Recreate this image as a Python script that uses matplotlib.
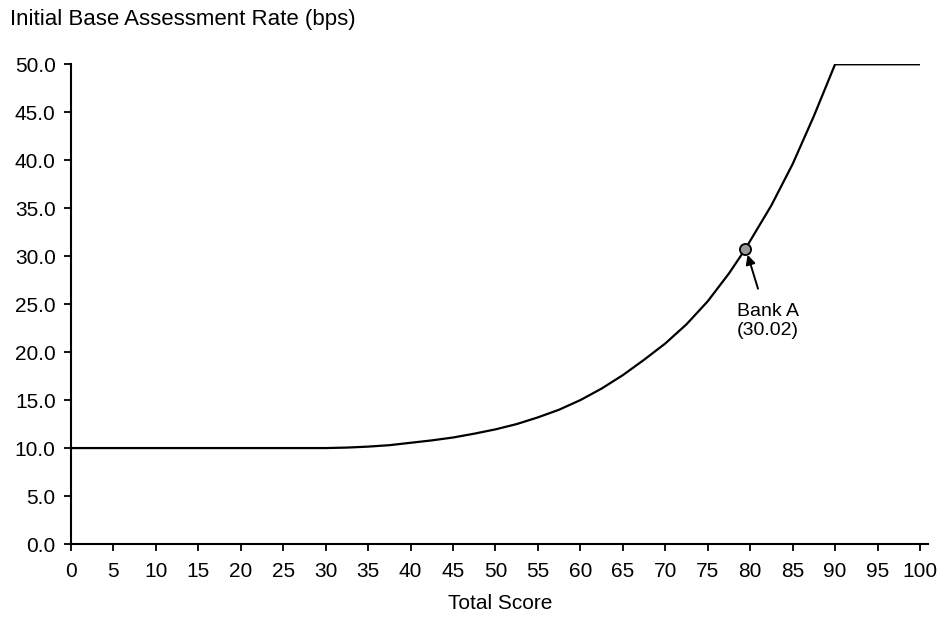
import matplotlib
matplotlib.use("Agg")
import matplotlib.pyplot as plt

plt.rcParams['font.family'] = ['Liberation Sans', 'DejaVu Sans']

score = [0, 30, 32.5, 35, 37.5, 40, 42.5, 45, 47.5, 50, 52.5, 55, 57.5, 60,
         62.5, 65, 67.5, 70, 72.5, 75, 77.5, 79.4, 80, 82.5, 85, 87.5, 90, 100]
rate = [10.0, 10.0, 10.05, 10.15, 10.3, 10.55, 10.8, 11.1, 11.5, 11.95, 12.5,
        13.2, 14.0, 15.0, 16.2, 17.6, 19.2, 20.9, 22.9, 25.3, 28.2, 30.7, 31.6,
        35.3, 39.6, 44.6, 50.0, 50.0]
bank_score = 79.4
bank_rate = 30.7
bank_label = "Bank A\n(30.02)"
xticks = list(range(0, 101, 5))
yticks = [0, 5, 10, 15, 20, 25, 30, 35, 40, 45, 50]

fig = plt.figure(figsize=(9.45, 6.22), dpi=100)
ax = fig.add_axes([0.0751, 0.1254, 0.9074, 0.7712])

ax.plot(score, rate, color='black', lw=1.6, solid_capstyle='butt',
        solid_joinstyle='round')
ax.plot([bank_score], [bank_rate], marker='o', ms=8, mfc='#9a9a9a',
        mec='black', mew=1.3, zorder=5)
ax.annotate(bank_label, xy=(bank_score + 0.3, bank_rate - 0.55),
            xytext=(82.1, 23.2), ha='center', va='center', fontsize=14,
            multialignment='center', linespacing=1.15,
            arrowprops=dict(arrowstyle='-|>', color='black', lw=1.4,
                            mutation_scale=14, shrinkA=9, shrinkB=0))

ax.set_xlim(0, 101)
ax.set_ylim(0, 50)
ax.set_xticks(xticks)
ax.set_xticklabels([str(t) for t in xticks], fontsize=15)
ax.set_yticks(yticks)
ax.set_yticklabels([f"{t:.1f}" for t in yticks], fontsize=15)
ax.tick_params(axis='both', direction='out', length=5, width=1.3, pad=6)
ax.tick_params(axis='x', pad=8)
for s in ['top', 'right']:
    ax.spines[s].set_visible(False)
for s in ['left', 'bottom']:
    ax.spines[s].set_linewidth(1.5)

ax.set_xlabel("Total Score", fontsize=15, labelpad=9)
fig.text(0.011, 1 - 20 / 622, "Initial Base Assessment Rate (bps)",
         fontsize=16, ha='left', va='center')

fig.savefig("out.png", dpi=100)
